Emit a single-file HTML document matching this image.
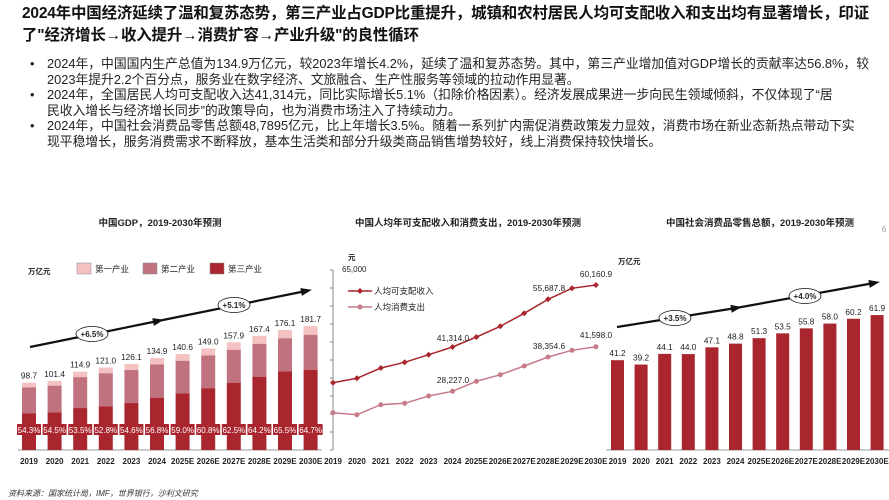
<!DOCTYPE html>
<html><head><meta charset="utf-8"><style>
body{margin:0;width:889px;height:500px;background:#fff;overflow:hidden;font-family:"Liberation Sans","Noto Sans CJK SC",sans-serif;}
.t{position:absolute;left:22px;top:3px;width:865px;font-size:15.5px;font-weight:bold;line-height:22px;color:#111;letter-spacing:-0.2px}
.b{position:absolute;left:30px;top:56px;font-size:12.8px;line-height:15.6px;color:#222;white-space:nowrap}
.b div{position:relative;padding-left:17px}
.b div.f:before{content:"•";position:absolute;left:0;top:0}
svg{position:absolute;left:0;top:0}
</style></head><body>
<div class="t">2024年中国经济延续了温和复苏态势，第三产业占GDP比重提升，城镇和农村居民人均可支配收入和支出均有显著增长，印证了"经济增长→收入提升→消费扩容→产业升级"的良性循环</div>
<div class="b">
<div class="f">2024年，中国国内生产总值为134.9万亿元，较2023年增长4.2%，延续了温和复苏态势。其中，第三产业增加值对GDP增长的贡献率达56.8%，较</div>
<div>2023年提升2.2个百分点，服务业在数字经济、文旅融合、生产性服务等领域的拉动作用显著。</div>
<div class="f">2024年，全国居民人均可支配收入达41,314元，同比实际增长5.1%（扣除价格因素）。经济发展成果进一步向民生领域倾斜，不仅体现了“居</div>
<div>民收入增长与经济增长同步”的政策导向，也为消费市场注入了持续动力。</div>
<div class="f">2024年，中国社会消费品零售总额48,7895亿元，比上年增长3.5%。随着一系列扩内需促消费政策发力显效，消费市场在新业态新热点带动下实</div>
<div>现平稳增长，服务消费需求不断释放，基本生活类和部分升级类商品销售增势较好，线上消费保持较快增长。</div>
</div>
<svg id="s" width="889" height="500" xmlns="http://www.w3.org/2000/svg" font-family="Liberation Sans, Noto Sans CJK SC, sans-serif"></svg>
<script>
var s='';
function T(x,y,t,o){o=o||{};s+='<text x="'+x+'" y="'+y+'" font-size="'+(o.fs||8.5)+'" fill="'+(o.c||'#222')+'" text-anchor="'+(o.a||'middle')+'"'+(o.b?' font-weight="bold"':'')+(o.i?' font-style="italic"':'')+'>'+t+'</text>';}
function R(x,y,w,h,c){s+='<rect x="'+x+'" y="'+y+'" width="'+w+'" height="'+h+'" fill="'+c+'"/>';}
var yrs=['2019','2020','2021','2022','2023','2024','2025E','2026E','2027E','2028E','2029E','2030E'];
T(160,226,'中国GDP，2019-2030年预测',{fs:9.5,b:1});
T(468,226,'中国人均年可支配收入和消费支出，2019-2030年预测',{fs:9.5,b:1});
T(760,226,'中国社会消费品零售总额，2019-2030年预测',{fs:9.5,b:1});
T(884,232,'6',{fs:8,c:'#999'});
var g=[98.7,101.4,114.9,121.0,126.1,134.9,140.6,149.0,157.9,167.4,176.1,181.7];
var p=[54.3,54.5,53.5,52.8,54.6,56.8,59.0,60.8,62.5,64.2,65.5,64.7];
s+='<line x1="18" y1="450" x2="322" y2="450" stroke="#999"/>';
for(var i=0;i<12;i++){var cx=29+i*25.6,h=g[i]*0.682,ht=h*p[i]/100,hp=h*0.07;
R(cx-7,450-h,14,hp,'#f5c2c2');R(cx-7,450-h+hp,14,h-hp-ht,'#c0737f');R(cx-7,450-ht,14,ht,'#a9262e');
T(cx,446-h,g[i].toFixed(1),{fs:8.3});
R(cx-12,424,24,11,'#a9262e');T(cx,433,p[i].toFixed(1)+'%',{fs:8,c:'#fff'});
T(cx,464,yrs[i],{fs:8,b:1});}
T(28,274,'万亿元',{fs:7.5,b:1,a:'start'});
[['#f5c2c2','第一产业',77],['#c0737f','第二产业',143],['#a9262e','第三产业',210]].forEach(function(l){R(l[2],263,14,11,l[0]);s+='<rect x="'+l[2]+'" y="263" width="14" height="11" fill="none" stroke="#888" stroke-width=".5"/>';T(l[2]+18,272,l[1],{fs:8.5,a:'start'});});
function arrow(x1,y1,x2,y2){s+='<line x1="'+x1+'" y1="'+y1+'" x2="'+x2+'" y2="'+y2+'" stroke="#111" stroke-width="2.2"/>';var a=Math.atan2(y2-y1,x2-x1);s+='<polygon points="'+(x2+6*Math.cos(a))+','+(y2+6*Math.sin(a))+' '+(x2-5*Math.cos(a)+4*Math.sin(a))+','+(y2-5*Math.sin(a)-4*Math.cos(a))+' '+(x2-5*Math.cos(a)-4*Math.sin(a))+','+(y2-5*Math.sin(a)+4*Math.cos(a))+'" fill="#111"/>';}
function ell(x,y,t){s+='<ellipse cx="'+x+'" cy="'+y+'" rx="16" ry="7.5" fill="#fff" stroke="#111" stroke-width=".8"/>';T(x,y+3,t,{fs:8,b:1});}
arrow(30,347,158,321);arrow(158,321,306,291);ell(92,334,'+6.5%');ell(234,305,'+5.1%');
s+='<line x1="333" y1="270" x2="333" y2="450" stroke="#888"/>';
for(var k=0;k<=10;k++){var yy=270+k*18;s+='<line x1="330" y1="'+yy+'" x2="333" y2="'+yy+'" stroke="#888"/>';}
T(348,260,'元',{fs:7.5,b:1,a:'start'});T(342,272,'65,000',{fs:8,a:'start'});
var inc=[382.7,378.3,368,362.3,354.7,347,337,326.3,313.3,299.3,288.3,285];
var con=[412.7,414.7,404.7,403.3,396,391.3,381.3,374.7,366,357,350.3,346.7];
function pl(d,c){var pts=d.map(function(y,i){return (333+i*23.9)+','+y}).join(' ');s+='<polyline points="'+pts+'" fill="none" stroke="'+c+'" stroke-width="1.5"/>';}
pl(inc,'#a9262e');pl(con,'#c77a88');
for(i=0;i<12;i++){var x=333+i*23.9;s+='<polygon points="'+x+','+(inc[i]-3)+' '+(x+3)+','+inc[i]+' '+x+','+(inc[i]+3)+' '+(x-3)+','+inc[i]+'" fill="#a9262e"/>';s+='<circle cx="'+x+'" cy="'+con[i]+'" r="2.5" fill="#c77a88"/>';}
s+='<line x1="348" y1="291" x2="372" y2="291" stroke="#a9262e" stroke-width="1.5"/><polygon points="360,288 363,291 360,294 357,291" fill="#a9262e"/>';T(374,294,'人均可支配收入',{fs:8.5,a:'start'});
s+='<line x1="348" y1="307" x2="372" y2="307" stroke="#c77a88" stroke-width="1.5"/><circle cx="360" cy="307" r="2.5" fill="#c77a88"/>';T(374,310,'人均消费支出',{fs:8.5,a:'start'});
T(453,341,'41,314.0',{fs:8.3});T(453,383,'28,227.0',{fs:8.3});T(549,291,'55,687.8',{fs:8.3});T(549,349,'38,354.6',{fs:8.3});T(596,277,'60,160.9',{fs:8.3});T(596,338,'41,598.0',{fs:8.3});
for(i=0;i<12;i++)T(333+i*23.9,464,yrs[i],{fs:8,b:1});
var r=[41.2,39.2,44.1,44.0,47.1,48.8,51.3,53.5,55.8,58.0,60.2,61.9];
s+='<line x1="606" y1="450" x2="889" y2="450" stroke="#999"/>';
for(i=0;i<12;i++){var cx=617.5+i*23.6,h=r[i]*2.18;R(cx-6.5,450-h,13,h,'#a9262e');T(cx,446-h,r[i].toFixed(1),{fs:8.3});T(cx,464,yrs[i],{fs:8,b:1});}
T(618,264,'万亿元',{fs:7.5,b:1,a:'start'});
arrow(617,327,736,308);arrow(736,308,874,283);ell(675,318,'+3.5%');ell(805,296,'+4.0%');
T(8,496,'资料来源：国家统计局，IMF，世界银行，沙利文研究',{fs:8,i:1,a:'start',c:'#333'});
document.getElementById('s').innerHTML=s;
</script>
</body></html>
